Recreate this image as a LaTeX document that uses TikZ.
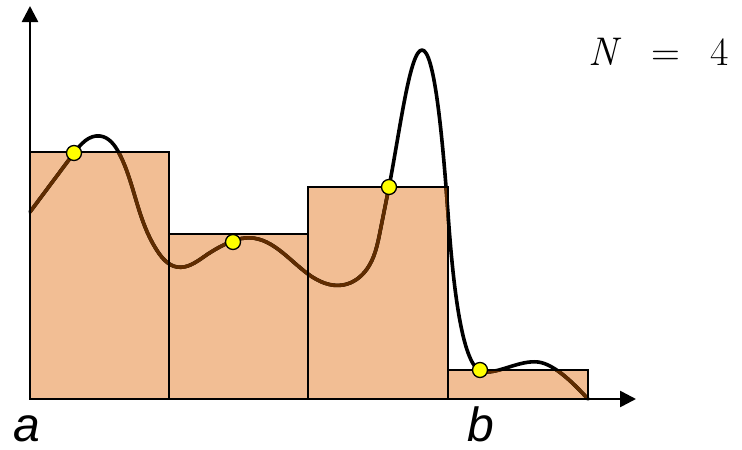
\documentclass[tikz,border=0pt]{standalone}
\usepackage{fontspec}
\newfontfamily\labfont{Liberation Sans}
\usetikzlibrary{arrows.meta,hobby}
\definecolor{peach}{RGB}{242,190,148}
\definecolor{darkbrown}{RGB}{96,44,0}
\definecolor{dotyellow}{RGB}{255,255,0}
\tikzset{
  barbox/.style={draw=black, line width=1.8pt},
  axisline/.style={line width=2.6pt, -{Triangle[length=16pt,width=16pt]}},
  curveline/.style={line width=3.6pt, line join=round, line cap=round},
  sample/.style={circle, draw=black, line width=1.3pt, fill=dotyellow, inner sep=0pt, minimum size=15pt},
  endlabel/.style={font=\labfont\itshape\fontsize{48}{48}\selectfont, inner sep=0pt, anchor=base},
}
\newcommand{\fcurveA}{[use Hobby shortcut] (30,212) .. (74,153) .. (100,136) .. (119,153) .. (140,213)
 .. (158,252) .. (177,267) .. (205,256) .. (233,241) .. (245,238)  .. (308,274)
 .. (343,285) .. (367,269) .. (380,232) .. (389,187)}
\newcommand{\fcurveB}{(389,187) .. controls (400,130) and (410,50) .. (422,50)
 .. controls (434,50) and (442,130) .. (448,213)
 .. controls (454,300) and (464,372) .. (484,372)
 .. controls (500,373) and (520,360) .. (538,362)
 .. controls (555,364) and (575,385) .. (588,399)}
\begin{document}
\begin{tikzpicture}[x=1pt,y=-1pt]
\useasboundingbox (0,0) rectangle (742,450);
% bars fill
\fill[peach] (30,152) rectangle (169,399);
\fill[peach] (169,234) rectangle (308,399);
\fill[peach] (308,187) rectangle (448,399);
\fill[peach] (448,370) rectangle (588,399);
% curve
\draw[curveline, black] \fcurveA;
\draw[curveline, black] \fcurveB;
\begin{scope}
  \clip (30,152) rectangle (169,399) (169,234) rectangle (308,399)
        (308,187) rectangle (448,399) (448,370) rectangle (588,399);
  \draw[curveline, darkbrown] \fcurveA;
  \draw[curveline, darkbrown] \fcurveB;
\end{scope}
% bar outlines
\draw[barbox] (30,152) rectangle (169,399);
\draw[barbox] (169,234) rectangle (308,399);
\draw[barbox] (308,187) rectangle (448,399);
\draw[barbox] (448,370) rectangle (588,399);
% axes
\coordinate (O) at (30,399);
\coordinate (xend) at (636,399);
\coordinate (yend) at (30,6);
\draw[axisline] (O) -- (xend);
\draw[axisline] (O) -- (yend);
% sample points
\node[sample] (s1) at (74,153) {};
\node[sample] (s2) at (233,242) {};
\node[sample] (s3) at (389,187) {};
\node[sample] (s4) at (480,370) {};
% labels
\node[endlabel] (la) at (27,441) {a};
\node[endlabel] (lb) at (481,441) {b};
\node[inner sep=0pt, anchor=base west, font=\fontsize{40}{40}\selectfont] (nlab) at (588,65)
  {\rlap{\textit{N}}\hspace{63pt}\rlap{=}\hspace{59pt}4};
\end{tikzpicture}
\end{document}
